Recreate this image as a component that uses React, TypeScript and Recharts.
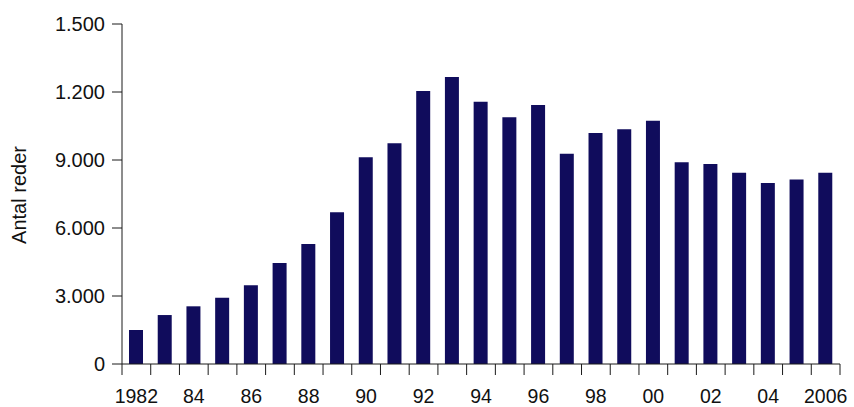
import React from 'react';
import { BarChart, Bar, XAxis, YAxis } from 'recharts';

const years = [
  '1982', '1983', '1984', '1985', '1986', '1987', '1988', '1989', '1990', '1991',
  '1992', '1993', '1994', '1995', '1996', '1997', '1998', '1999', '2000', '2001',
  '2002', '2003', '2004', '2005', '2006',
];
const antalReder = [
  1500, 2160, 2545, 2925, 3470, 4455, 5295, 6700, 9120, 9735,
  12045, 12660, 11575, 10885, 11430, 9280, 10190, 10355, 10735, 8900,
  8825, 8440, 7985, 8135, 8440,
];
const xTickText = [
  '1982', '', '84', '', '86', '', '88', '', '90', '', '92', '', '94', '', '96', '', '98', '',
  '00', '', '02', '', '04', '', '2006',
];
const yTickValues = [0, 3000, 6000, 9000, 12000, 15000];
const yTickText = ['0', '3.000', '6.000', '9.000', '1.200', '1.500'];
const yAxisTitle = 'Antal reder';

const data = years.map((y, i) => ({ year: y, value: antalReder[i] }));

const FONT = '"Liberation Sans", Arial, Helvetica, sans-serif';
const AXIS = '#1a1a1a';

const XTick = (props: any) => {
  const { x, y, payload, index } = props;
  const half = payload && typeof payload.offset === 'number' && payload.offset > 0 ? payload.offset : 14.36;
  const label = xTickText[payload?.index ?? index] ?? '';
  const isLast = (payload?.index ?? index) === years.length - 1;
  return (
    <g>
      <line x1={x - half} x2={x - half} y1={y} y2={y + 11} stroke={AXIS} strokeWidth={1} />
      {isLast && <line x1={x + half} x2={x + half} y1={y} y2={y + 11} stroke={AXIS} strokeWidth={1} />}
      {label && (
        <text x={x} y={y + 39} textAnchor="middle" fontSize={19.5} fontFamily={FONT} fill="#111">
          {label}
        </text>
      )}
    </g>
  );
};

const YTitle = () => (
  <text
    x={19}
    y={195}
    transform="rotate(-90 19 195)"
    textAnchor="middle"
    dominantBaseline="central"
    fontSize={20}
    fontFamily={FONT}
    fill="#111"
  >
    {yAxisTitle}
  </text>
);

export default function App() {
  return (
    <div style={{ position: 'absolute', left: 0, top: 0, background: '#fff' }}>
      <BarChart
        width={854}
        height={407}
        data={data}
        margin={{ top: 24, right: 14, left: 0, bottom: 0 }}
        barCategoryGap={0}
      >
        <XAxis
          dataKey="year"
          height={43}
          interval={0}
          tickLine={false}
          tickSize={0}
          tickMargin={0}
          axisLine={{ stroke: AXIS, strokeWidth: 1 }}
          tick={<XTick />}
        />
        <XAxis
          xAxisId="top"
          dataKey="year"
          orientation="top"
          height={0}
          tick={false}
          tickLine={false}
          axisLine={{ stroke: AXIS, strokeWidth: 1 }}
        />
        <YAxis
          width={122}
          domain={[0, 15000]}
          ticks={yTickValues}
          interval={0}
          tickSize={10}
          tickMargin={7}
          tickLine={{ stroke: AXIS, strokeWidth: 1 }}
          axisLine={{ stroke: AXIS, strokeWidth: 1 }}
          tickFormatter={(v: number) => yTickText[yTickValues.indexOf(v)] ?? ''}
          tick={{ fontSize: 20, fontFamily: FONT, fill: '#111' }}
          label={<YTitle />}
        />
        <YAxis
          yAxisId="right"
          orientation="right"
          width={0}
          domain={[0, 15000]}
          tick={false}
          tickLine={false}
          axisLine={{ stroke: AXIS, strokeWidth: 1 }}
        />
        <Bar dataKey="value" fill="#100c5c" barSize={14} isAnimationActive={false} />
      </BarChart>
    </div>
  );
}
